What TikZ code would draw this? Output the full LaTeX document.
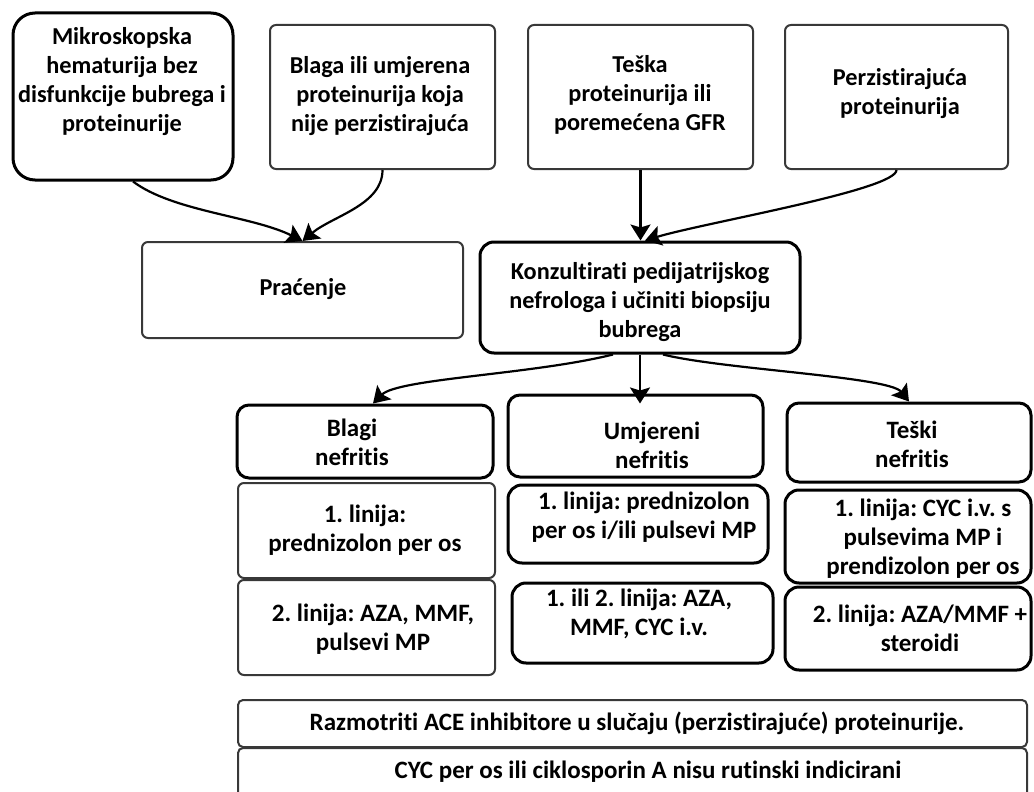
\documentclass[tikz,border=0pt]{standalone}
\usepackage{fontspec}
\setmainfont{Carlito}[Ligatures=NoCommon]
\usetikzlibrary{arrows.meta}
\frenchspacing
\tikzset{
  thickbox/.style={draw=black, line width=3pt, rounded corners=14pt, inner sep=0pt, fill=white},
  thinbox/.style={draw=black!78, line width=2pt, rounded corners=6pt, inner sep=0pt, fill=white},
  txt/.style={align=center, font=\fontsize{24.3}{29}\selectfont\bfseries, inner sep=0pt},
  bigtxt/.style={txt, font=\fontsize{25}{29}\selectfont\bfseries},
  conn/.style={line width=2.2pt, draw=black, -{Stealth[length=16pt,width=20pt,inset=3pt]}},
}
\begin{document}
\begin{tikzpicture}[x=1pt,y=-1pt]
\useasboundingbox (0,0) rectangle (1034,792);
\clip (0,0) rectangle (1034,792);
% top row
\node[thickbox, rounded corners=22pt, minimum width=220pt, minimum height=167pt] (A) at (123,96.5) {};
\node[txt] (At) at (122,82) {Mikroskopska\\hematurija bez\\disfunkcije bubrega i\\proteinurije};
\node[thinbox, minimum width=225pt, minimum height=144pt] (B) at (382.5,97) {};
\node[txt] (Bt) at (380,96) {Blaga ili umjerena\\proteinurija koja\\nije perzistirajuća};
\node[thinbox, minimum width=225pt, minimum height=144pt] (C) at (640.5,97) {};
\node[txt] (Ct) at (640,95) {Teška\\proteinurija ili\\poremećena GFR};
\node[thinbox, minimum width=223pt, minimum height=144pt] (D) at (896.5,97) {};
\node[txt] (Dt) at (900,94) {Perzistirajuća\\proteinurija};
% second row
\node[thinbox, minimum width=321pt, minimum height=96pt] (P) at (302.5,290) {};
\node[txt] (Pt) at (303,289) {Praćenje};
\node[thickbox, minimum width=320pt, minimum height=111pt] (K) at (640,297.5) {};
\node[txt] (Kt) at (640,302) {Konzultirati pedijatrijskog\\nefrologa i učiniti biopsiju\\bubrega};
% nephritis headers
\node[thickbox, rounded corners=12pt, minimum width=256pt, minimum height=73pt] (BH) at (365,441.5) {};
\node[bigtxt] (BHt) at (352,442) {Blagi\\nefritis};
\node[thickbox, rounded corners=12pt, minimum width=255pt, minimum height=82pt] (UH) at (635.5,436) {};
\node[bigtxt] (UHt) at (652,445) {Umjereni\\nefritis};
\node[thickbox, rounded corners=12pt, minimum width=244pt, minimum height=79pt] (TH) at (909,442.5) {};
\node[bigtxt] (THt) at (912,444) {Teški\\nefritis};
% treatment boxes
\node[thinbox, minimum width=257pt, minimum height=95pt] (BL1) at (366.5,530.5) {};
\node[bigtxt] (BL1t) at (365,530) {1. linija:\\prednizolon per os};
\node[thinbox, minimum width=257pt, minimum height=95pt] (BL2) at (366.5,627.5) {};
\node[bigtxt] (BL2t) at (373,629) {2. linija: AZA, MMF,\\pulsevi MP};
\node[thickbox, minimum width=260pt, minimum height=78pt] (UL1) at (638,524) {};
\node[bigtxt] (UL1t) at (644,517) {1. linija: prednizolon\\per os i/ili pulsevi MP};
\node[thickbox, minimum width=261pt, minimum height=80pt] (UL2) at (642.5,623) {};
\node[bigtxt] (UL2t) at (639,614) {1. ili 2. linija: AZA,\\MMF, CYC i.v.};
\node[thickbox, minimum width=246pt, minimum height=93pt] (TL1) at (908,536.5) {};
\node[bigtxt] (TL1t) at (923,539) {1. linija: CYC i.v. s\\pulsevima MP i\\prendizolon per os};
\node[thickbox, minimum width=246pt, minimum height=83pt] (TL2) at (908,628.5) {};
\node[bigtxt] (TL2t) at (920,628) {2. linija: AZA/MMF +\\steroidi};
% bottom notes
\node[thinbox, rounded corners=5pt, minimum width=789pt, minimum height=47pt] (R1) at (632.5,723.5) {};
\node[bigtxt] (R1t) at (637,723) {Razmotriti ACE inhibitore u slučaju (perzistirajuće) proteinurije.};
\node[thinbox, rounded corners=5pt, minimum width=789pt, minimum height=52pt] (R2) at (632.5,774) {};
\node[bigtxt] (R2t) at (648,772) {CYC per os ili ciklosporin A nisu rutinski indicirani};
% connectors
\draw[conn] ([xshift=10pt]A.south) .. controls +(40,30) and +(-50,-25) .. (P.north);
\draw[conn] (B.south) .. controls +(0,35) and +(30,-25) .. (P.north);
\draw[conn] (C.south) -- (C.south |- K.north);
\draw[conn] (D.south) .. controls +(0,20) and +(60,-18) .. ([xshift=5pt]K.north);
\draw[conn] ([xshift=-27pt]K.south) .. controls +(-80,20) and +(25,-25) .. ([xshift=8pt]BH.north);
\draw[conn] (K.south) -- ([yshift=-10pt]K.south |- UH.north);
\draw[conn] ([xshift=23pt]K.south) .. controls +(60,15) and +(-20,-25) .. (TH.north);
\end{tikzpicture}
\end{document}
